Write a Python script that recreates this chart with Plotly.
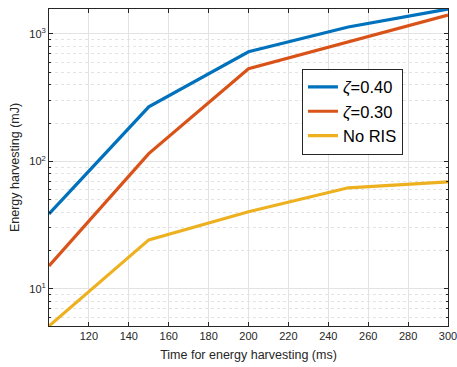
import numpy as np
import plotly.graph_objects as go

# Harvesting time (ms) and harvested energy (mJ) per configuration
time_ms = [100, 150, 200, 250, 300]
energy_zeta_040 = [38.7, 268, 725, 1135, 1571]
energy_zeta_030 = [15.1, 115, 534, 865, 1409]
energy_no_ris = [5.1, 24.2, 40.2, 62, 69]

series_names = ["<i>ζ</i>=0.40", "<i>ζ</i>=0.30", "No RIS"]
series_colors = ["#0072BD", "#D95319", "#EDB120"]

x_tickvals = [120, 140, 160, 180, 200, 220, 240, 260, 280, 300]
y_tickvals = [10, 100, 1000]
y_ticktext = ["10<sup>1</sup>", "10<sup>2</sup>", "10<sup>3</sup>"]
y_minor_vals = [m * 10 ** d for d in range(0, 4) for m in range(2, 10)]

axis_color = "#262626"
font_family = "Liberation Sans, Arial, sans-serif"

fig = go.Figure()
for name, ys, color in zip(series_names,
                           [energy_zeta_040, energy_zeta_030, energy_no_ris],
                           series_colors):
    fig.add_trace(go.Scatter(x=time_ms, y=ys, mode="lines", name=name,
                             line=dict(color=color, width=3.2)))

all_y = energy_zeta_040 + energy_zeta_030 + energy_no_ris
y_range = [np.log10(min(all_y)), np.log10(max(all_y))]

fig.update_layout(
    width=457, height=367,
    margin=dict(l=49, r=9, t=9, b=41, autoexpand=False),
    paper_bgcolor="white", plot_bgcolor="white",
    font=dict(family=font_family, size=11, color=axis_color),
    showlegend=True,
    legend=dict(
        x=0.634, y=0.812, xanchor="left", yanchor="top",
        bgcolor="white", bordercolor=axis_color, borderwidth=1,
        font=dict(size=16.5, color="black", family=font_family),
        itemwidth=30, tracegroupgap=0,
    ),
)

fig.update_xaxes(
    range=[min(time_ms), max(time_ms)],
    tickmode="array", tickvals=x_tickvals,
    ticks="inside", ticklen=4, tickcolor=axis_color,
    ticklabeloverflow="allow", automargin=False,
    showline=True, linecolor=axis_color, linewidth=1, mirror="ticks",
    showgrid=True, gridcolor="#e3e3e3", gridwidth=1,
    zeroline=False,
    title=dict(text="Time for energy harvesting (ms)", font=dict(size=12.5), standoff=9),
)

fig.update_yaxes(
    type="log", range=y_range,
    tickmode="array", tickvals=y_tickvals, ticktext=y_ticktext,
    ticks="inside", ticklen=4, tickcolor=axis_color,
    automargin=False,
    showline=True, linecolor=axis_color, linewidth=1, mirror="ticks",
    showgrid=True, gridcolor="#e3e3e3", gridwidth=1,
    zeroline=False,
    minor=dict(tickmode="array", tickvals=y_minor_vals, ticks="inside",
               ticklen=2, tickcolor=axis_color, showgrid=True,
               gridcolor="#e3e3e3", griddash="dot", gridwidth=1),
    title=dict(text="Energy harvesting (mJ)", font=dict(size=12.5), standoff=6),
)

fig.write_html("out.html")
